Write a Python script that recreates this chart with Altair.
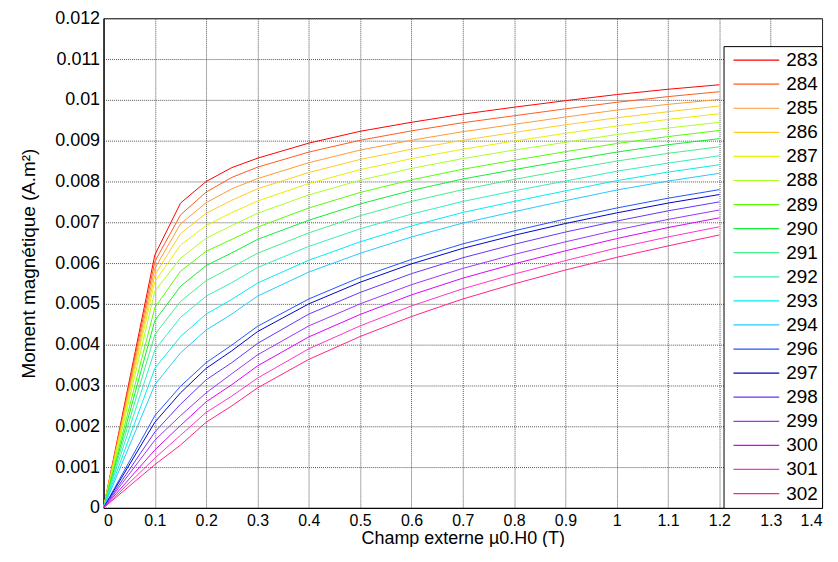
import altair as alt
import pandas as pd

field = [0, 0.1, 0.15, 0.2, 0.25, 0.3, 0.4, 0.5, 0.6, 0.7, 0.8, 0.9, 1.0, 1.1, 1.2]
temps = ["283", "284", "285", "286", "287", "288", "289", "290", "291", "292",
         "293", "294", "296", "297", "298", "299", "300", "301", "302"]

m283 = [0, 0.00620, 0.00747, 0.00800, 0.00834, 0.00857, 0.00894, 0.00923, 0.00945, 0.00965, 0.00982, 0.00998, 0.01013, 0.01026, 0.01037]
m284 = [0, 0.00604, 0.00718, 0.00774, 0.00810, 0.00835, 0.00872, 0.00901, 0.00924, 0.00944, 0.00961, 0.00978, 0.00994, 0.01008, 0.01020]
m285 = [0, 0.00587, 0.00696, 0.00748, 0.00782, 0.00807, 0.00846, 0.00877, 0.00901, 0.00922, 0.00940, 0.00958, 0.00975, 0.00989, 0.01001]
m286 = [0, 0.00571, 0.00672, 0.00722, 0.00754, 0.00782, 0.00822, 0.00854, 0.00879, 0.00901, 0.00920, 0.00939, 0.00956, 0.00971, 0.00985]
m287 = [0, 0.00555, 0.00644, 0.00692, 0.00724, 0.00752, 0.00795, 0.00829, 0.00856, 0.00879, 0.00899, 0.00918, 0.00936, 0.00952, 0.00966]
m288 = [0, 0.00531, 0.00612, 0.00661, 0.00692, 0.00722, 0.00767, 0.00803, 0.00832, 0.00856, 0.00877, 0.00896, 0.00915, 0.00931, 0.00945]
m289 = [0, 0.00491, 0.00580, 0.00629, 0.00658, 0.00688, 0.00735, 0.00773, 0.00804, 0.00830, 0.00852, 0.00873, 0.00893, 0.00910, 0.00925]
m290 = [0, 0.00459, 0.00543, 0.00594, 0.00625, 0.00658, 0.00705, 0.00745, 0.00778, 0.00806, 0.00829, 0.00851, 0.00872, 0.00890, 0.00905]
m291 = [0, 0.00425, 0.00506, 0.00557, 0.00590, 0.00624, 0.00674, 0.00716, 0.00751, 0.00780, 0.00805, 0.00828, 0.00850, 0.00869, 0.00885]
m292 = [0, 0.00387, 0.00467, 0.00519, 0.00552, 0.00589, 0.00641, 0.00684, 0.00720, 0.00751, 0.00777, 0.00801, 0.00825, 0.00845, 0.00863]
m293 = [0, 0.00342, 0.00420, 0.00475, 0.00511, 0.00551, 0.00607, 0.00652, 0.00691, 0.00724, 0.00751, 0.00777, 0.00802, 0.00823, 0.00841]
m294 = [0, 0.00302, 0.00380, 0.00436, 0.00475, 0.00519, 0.00578, 0.00624, 0.00664, 0.00698, 0.00726, 0.00753, 0.00779, 0.00801, 0.00820]
m296 = [0, 0.00226, 0.00298, 0.00356, 0.00399, 0.00445, 0.00512, 0.00565, 0.00609, 0.00647, 0.00679, 0.00708, 0.00735, 0.00759, 0.00780]
m297 = [0, 0.00210, 0.00282, 0.00342, 0.00385, 0.00432, 0.00500, 0.00553, 0.00598, 0.00636, 0.00668, 0.00697, 0.00723, 0.00747, 0.00768]
m298 = [0, 0.00186, 0.00254, 0.00314, 0.00356, 0.00403, 0.00475, 0.00528, 0.00574, 0.00613, 0.00646, 0.00676, 0.00703, 0.00728, 0.00750]
m299 = [0, 0.00166, 0.00226, 0.00282, 0.00329, 0.00375, 0.00446, 0.00500, 0.00547, 0.00587, 0.00621, 0.00652, 0.00681, 0.00707, 0.00730]
m300 = [0, 0.00142, 0.00202, 0.00260, 0.00302, 0.00348, 0.00419, 0.00474, 0.00522, 0.00563, 0.00598, 0.00630, 0.00660, 0.00687, 0.00711]
m301 = [0, 0.00122, 0.00178, 0.00234, 0.00274, 0.00318, 0.00390, 0.00446, 0.00495, 0.00537, 0.00573, 0.00606, 0.00637, 0.00664, 0.00689]
m302 = [0, 0.00106, 0.00154, 0.00210, 0.00250, 0.00294, 0.00364, 0.00420, 0.00469, 0.00512, 0.00549, 0.00583, 0.00614, 0.00642, 0.00669]

series = [m283, m284, m285, m286, m287, m288, m289, m290, m291, m292,
          m293, m294, m296, m297, m298, m299, m300, m301, m302]

colors = ["#ff0000", "#ff5a1e", "#ff9933", "#ffcc22", "#e6f000", "#aaff22",
          "#55ff00", "#11ee33", "#44ee88", "#33eebb", "#00eeee", "#22ccff",
          "#2255ff", "#0000cc", "#6633ff", "#9933ff", "#dd00ff", "#ff33cc", "#ff2288"]

x_ticks = [0, 0.1, 0.2, 0.3, 0.4, 0.5, 0.6, 0.7, 0.8, 0.9, 1, 1.1, 1.2, 1.3, 1.4]
y_ticks = [0, 0.001, 0.002, 0.003, 0.004, 0.005, 0.006, 0.007, 0.008, 0.009,
           0.01, 0.011, 0.012]

rows = []
for t, vals in zip(temps, series):
    for h, m in zip(field, vals):
        rows.append({"H": h, "M": m, "T": t})
df = pd.DataFrame(rows)

FONT = "Liberation Sans"

chart = alt.Chart(df).mark_line(strokeWidth=1, clip=True).encode(
    x=alt.X("H:Q",
            scale=alt.Scale(domain=[0, 1.4], nice=False, zero=False),
            axis=alt.Axis(values=x_ticks, format="~g",
                          title="Champ externe µ0.H0 (T)",
                          labelFontSize=16, labelPadding=5,
                          titleFontSize=18, titlePadding=1)),
    y=alt.Y("M:Q",
            scale=alt.Scale(domain=[0, 0.012], nice=False),
            axis=alt.Axis(values=y_ticks, format="~g",
                          title="Moment magnétique (A.m²)",
                          labelFontSize=18, labelPadding=4,
                          titleFontSize=19, titlePadding=16)),
    color=alt.Color("T:N",
                    scale=alt.Scale(domain=temps, range=colors),
                    sort=temps,
                    legend=alt.Legend(
                        orient="none", legendX=623, legendY=28,
                        title=None, symbolType="stroke",
                        symbolSize=2116, symbolStrokeWidth=1.2,
                        symbolOffset=5, clipHeight=20, rowPadding=4.2,
                        labelFontSize=19, labelFont=FONT, labelColor="black",
                        labelOffset=6, padding=4,
                        fillColor="white", strokeColor="black")),
    detail="T:N",
).properties(
    width=722, height=492,
    padding={"left": 96, "top": 9, "right": 8, "bottom": 38},
    autosize=alt.AutoSizeParams(type="none"),
).configure_view(
    stroke="black", strokeWidth=1
).configure_axis(
    domainColor="black", domainWidth=1,
    ticks=False,
    grid=True, gridColor="#555555", gridDash=[1, 1], gridWidth=1,
    labelFont=FONT, titleFont=FONT,
    labelColor="black", titleColor="black",
    titleFontWeight="normal",
)

chart.save("out.html", embed_options={"renderer": "svg", "actions": False})
